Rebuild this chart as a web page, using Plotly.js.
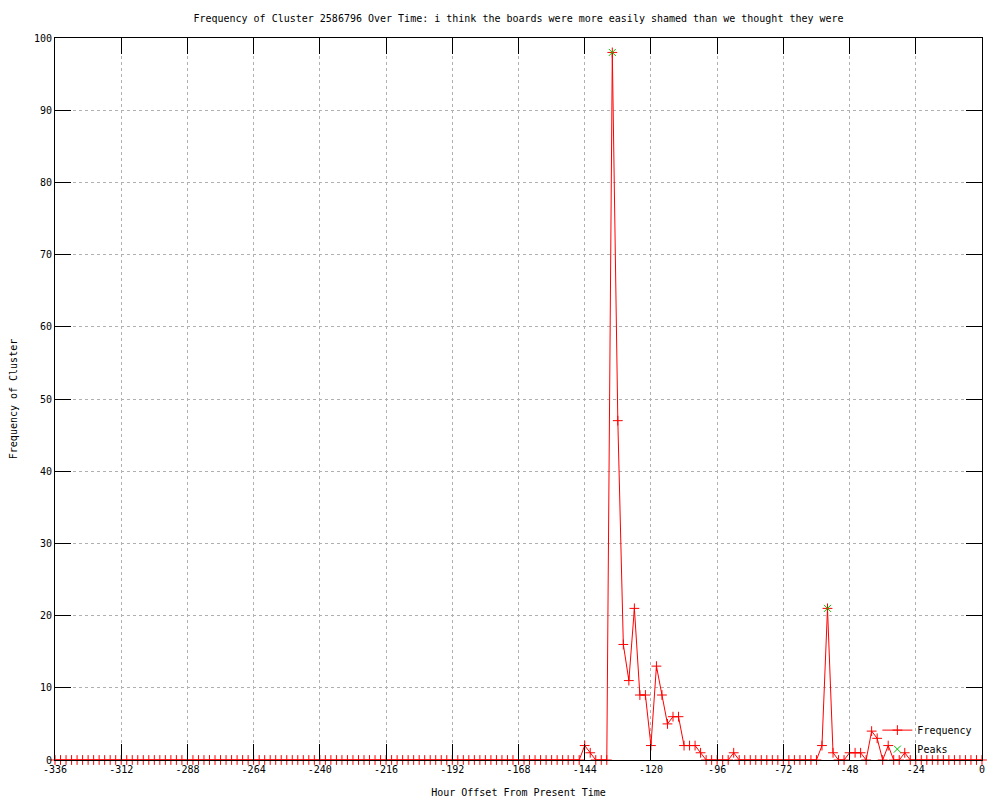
<!DOCTYPE html>
<html>
<head>
<meta charset="utf-8">
<script src="https://cdn.plot.ly/plotly-3.0.1.min.js"></script>
<style>html,body{margin:0;padding:0;background:#fff;}#chart{width:1000px;height:800px;}</style>
</head>
<body>
<div id="chart"></div>
<script>
// Hour offsets (every 2 hours)
const hours = [
  -336,-334,-332,-330,-328,-326,-324,-322,-320,-318,
  -316,-314,-312,-310,-308,-306,-304,-302,-300,-298,
  -296,-294,-292,-290,-288,-286,-284,-282,-280,-278,
  -276,-274,-272,-270,-268,-266,-264,-262,-260,-258,
  -256,-254,-252,-250,-248,-246,-244,-242,-240,-238,
  -236,-234,-232,-230,-228,-226,-224,-222,-220,-218,
  -216,-214,-212,-210,-208,-206,-204,-202,-200,-198,
  -196,-194,-192,-190,-188,-186,-184,-182,-180,-178,
  -176,-174,-172,-170,-168,-166,-164,-162,-160,-158,
  -156,-154,-152,-150,-148,-146,-144,-142,-140,-138,
  -136,-134,-132,-130,-128,-126,-124,-122,-120,-118,
  -116,-114,-112,-110,-108,-106,-104,-102,-100,-98,
  -96,-94,-92,-90,-88,-86,-84,-82,-80,-78,
  -76,-74,-72,-70,-68,-66,-64,-62,-60,-58,
  -56,-54,-52,-50,-48,-46,-44,-42,-40,-38,
  -36,-34,-32,-30,-28,-26,-24,-22,-20,-18,
  -16,-14,-12,-10,-8,-6,-4,-2,0
];
// Frequency of cluster at each hour offset
const frequency = [
  0,0,0,0,0,0,0,0,0,0,
  0,0,0,0,0,0,0,0,0,0,
  0,0,0,0,0,0,0,0,0,0,
  0,0,0,0,0,0,0,0,0,0,
  0,0,0,0,0,0,0,0,0,0,
  0,0,0,0,0,0,0,0,0,0,
  0,0,0,0,0,0,0,0,0,0,
  0,0,0,0,0,0,0,0,0,0,
  0,0,0,0,0,0,0,0,0,0,
  0,0,0,0,0,0,2,1,0,0,
  0,98,47,16,11,21,9,9,2,13,
  9,5,6,6,2,2,2,1,0,0,
  0,0,0,1,0,0,0,0,0,0,
  0,0,0,0,0,0,0,0,0,2,
  21,1,0,0,1,1,1,0,4,3,
  0,2,0,0,1,0,0,0,0,0,
  0,0,0,0,0,0,0,0,0
];
// Detected peaks
const peakHours = [-134, -56];
const peakValues = [98, 21];

const xTicks = [-336,-312,-288,-264,-240,-216,-192,-168,-144,-120,-96,-72,-48,-24,0];
const yTicks = [0,10,20,30,40,50,60,70,80,90,100];

const titleText = "Frequency of Cluster 2586796 Over Time: i think the boards were more easily shamed than we thought they were";
const xTitle = "Hour Offset From Present Time";
const yTitle = "Frequency of Cluster";

const FONT = "DejaVu Sans Mono, monospace";

const traces = [
  {
    x: hours, y: frequency, type: 'scatter', mode: 'lines+markers', name: 'Frequency',
    line: {color: '#ff0000', width: 1},
    marker: {symbol: 'cross-thin-open', size: 7, color: '#ff0000', line: {color: '#ff0000', width: 1}},
    cliponaxis: false
  },
  {
    x: peakHours, y: peakValues, type: 'scatter', mode: 'markers', name: 'Peaks',
    marker: {symbol: 'x-thin-open', size: 7, color: '#00c000', line: {color: '#00c000', width: 1}},
    cliponaxis: false
  }
];

const axisCommon = {
  showline: true, linecolor: '#000', linewidth: 1, mirror: 'allticks',
  ticks: 'inside', ticklen: 16, tickcolor: '#000', tickwidth: 1,
  showgrid: true, gridcolor: '#b0b0b0', griddash: 'dot', gridwidth: 1,
  zeroline: false, tickfont: {family: FONT, size: 10, color: '#000'},
  automargin: false
};

const layout = {
  width: 1000, height: 800,
  paper_bgcolor: '#fff', plot_bgcolor: '#fff',
  margin: {l: 55, r: 18, t: 38, b: 40},
  title: {text: titleText, font: {family: FONT, size: 10, color: '#000'}, xref: 'paper', x: 0.5, xanchor: 'center', yref: 'container', y: 1 - 18/800, yanchor: 'middle'},
  xaxis: Object.assign({}, axisCommon, {range: [-336, 0], tickvals: xTicks, ticktext: xTicks.map(String), title: {text: xTitle, font: {family: FONT, size: 10, color: '#000'}, standoff: 14}}),
  yaxis: Object.assign({}, axisCommon, {range: [0, 100], tickvals: yTicks, ticktext: yTicks.map(String), title: {text: yTitle, font: {family: FONT, size: 10, color: '#000'}, standoff: 14}}),
  showlegend: true,
  legend: {x: 0.995, y: -0.005, xanchor: 'right', yanchor: 'bottom', bgcolor: 'rgba(0,0,0,0)', font: {family: FONT, size: 10, color: '#000'}, tracegroupgap: 0, itemwidth: 30}
};

Plotly.newPlot('chart', traces, layout, {displayModeBar: false, staticPlot: true});
</script>
</body>
</html>
